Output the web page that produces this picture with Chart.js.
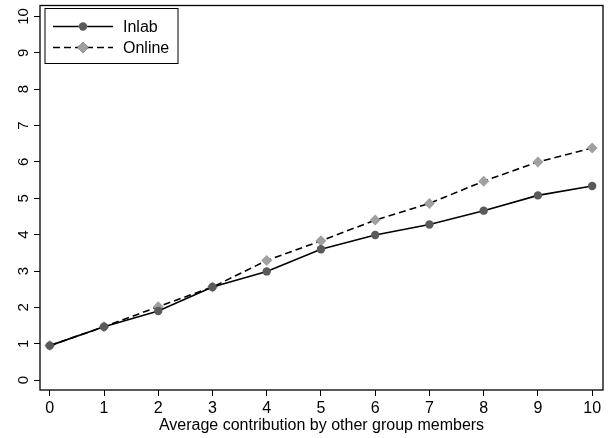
<!DOCTYPE html>
<html>
<head>
<meta charset="utf-8">
<script src="https://cdn.jsdelivr.net/npm/chart.js@4.4.0/dist/chart.umd.min.js"></script>
<style>
  html, body { margin: 0; padding: 0; background: #fff; }
  #wrap { width: 609px; height: 438px; }
</style>
</head>
<body>
<div id="wrap"><canvas id="chart"></canvas></div>
<script>
// values
const contribution = [0, 1, 2, 3, 4, 5, 6, 7, 8, 9, 10];
const inlab  = [0.95, 1.47, 1.90, 2.56, 2.99, 3.60, 3.99, 4.28, 4.66, 5.08, 5.34];
const online = [0.95, 1.47, 2.02, 2.56, 3.29, 3.83, 4.40, 4.86, 5.47, 6.00, 6.38];
const xTicks = [0, 1, 2, 3, 4, 5, 6, 7, 8, 9, 10];
const yTicks = [0, 1, 2, 3, 4, 5, 6, 7, 8, 9, 10];

const FONT = 'Liberation Sans, Arial, sans-serif';

// plot frame on all four sides
const frame = {
    id: 'frame',
    afterDatasetsDraw(chart) {
        const a = chart.chartArea, ctx = chart.ctx;
        ctx.save();
        ctx.strokeStyle = '#000';
        ctx.lineWidth = 1.3;
        ctx.strokeRect(a.left, a.top, a.right - a.left, a.bottom - a.top);
        ctx.restore();
    }
};

// Stata-like legend: line sample with marker in the middle, boxed, top left
const boxLegend = {
    id: 'boxLegend',
    afterDraw(chart) {
        const a = chart.chartArea, ctx = chart.ctx;
        const x0 = a.left + 5, y0 = a.top + 3, w = 133, h = 55;
        ctx.save();
        ctx.fillStyle = '#fff';
        ctx.fillRect(x0, y0, w, h);
        ctx.strokeStyle = '#000';
        ctx.lineWidth = 1;
        ctx.strokeRect(x0, y0, w, h);
        chart.data.datasets.forEach((ds, i) => {
            const y = y0 + 18 + i * 21;
            ctx.strokeStyle = ds.borderColor;
            ctx.lineWidth = ds.borderWidth;
            ctx.setLineDash(ds.borderDash || []);
            ctx.beginPath();
            ctx.moveTo(x0 + 8, y);
            ctx.lineTo(x0 + 68, y);
            ctx.stroke();
            ctx.setLineDash([]);
            Chart.helpers.drawPoint(ctx, {
                pointStyle: ds.pointStyle, radius: ds.pointRadius, borderWidth: 0
            }, x0 + 38, y);
            ctx.fillStyle = ds.pointBackgroundColor;
            ctx.fill();
            ctx.fillStyle = '#000';
            ctx.font = '16px ' + FONT;
            ctx.textBaseline = 'middle';
            ctx.fillText(ds.label, x0 + 78, y + 1);
        });
        ctx.restore();
    }
};

new Chart(document.getElementById('chart'), {
    type: 'line',
    data: {
        datasets: [{
            label: 'Inlab',
            data: contribution.map((x, i) => ({ x: x, y: inlab[i] })),
            borderColor: '#000',
            borderWidth: 1.6,
            pointStyle: 'circle',
            pointRadius: 4.2,
            pointBackgroundColor: '#5a5a5a',
            pointBorderWidth: 0,
            tension: 0
        }, {
            label: 'Online',
            data: contribution.map((x, i) => ({ x: x, y: online[i] })),
            borderColor: '#000',
            borderWidth: 1.6,
            borderDash: [7, 4],
            pointStyle: 'rectRot',
            pointRadius: 5.5,
            pointBackgroundColor: '#a0a0a0',
            pointBorderWidth: 0,
            tension: 0
        }]
    },
    options: {
        responsive: true,
        maintainAspectRatio: false,
        animation: false,
        layout: { padding: { top: 2, right: 6, left: 0, bottom: 0 } },
        plugins: {
            legend: { display: false },
            tooltip: { enabled: false }
        },
        scales: {
            x: {
                type: 'linear',
                min: -0.18,
                max: 10.2,
                afterBuildTicks: s => { s.ticks = xTicks.map(v => ({ value: v })); },
                afterFit: s => { s.height = 48; s.paddingLeft = 0; s.paddingRight = 0; },
                grid: { display: true, drawOnChartArea: false, drawTicks: true, tickLength: 6, color: '#000', lineWidth: 1 },
                border: { display: false },
                ticks: { color: '#000', font: { family: FONT, size: 16 }, padding: 3, maxRotation: 0 },
                title: {
                    display: true,
                    text: 'Average contribution by other group members',
                    color: '#000',
                    font: { family: FONT, size: 16 },
                    padding: { top: 0, bottom: 3 }
                }
            },
            y: {
                min: -0.27,
                max: 10.3,
                afterBuildTicks: s => { s.ticks = yTicks.map(v => ({ value: v })); },
                afterFit: s => { s.width = 40; s.paddingTop = 0; s.paddingBottom = 0; },
                grid: { display: true, drawOnChartArea: false, drawTicks: true, tickLength: 6, color: '#000', lineWidth: 1 },
                border: { display: false },
                ticks: {
                    color: '#000',
                    font: { family: FONT, size: 15 },
                    minRotation: 90,
                    maxRotation: 90,
                    crossAlign: 'center',
                    padding: 2
                }
            }
        }
    },
    plugins: [frame, boxLegend]
});
</script>
</body>
</html>
